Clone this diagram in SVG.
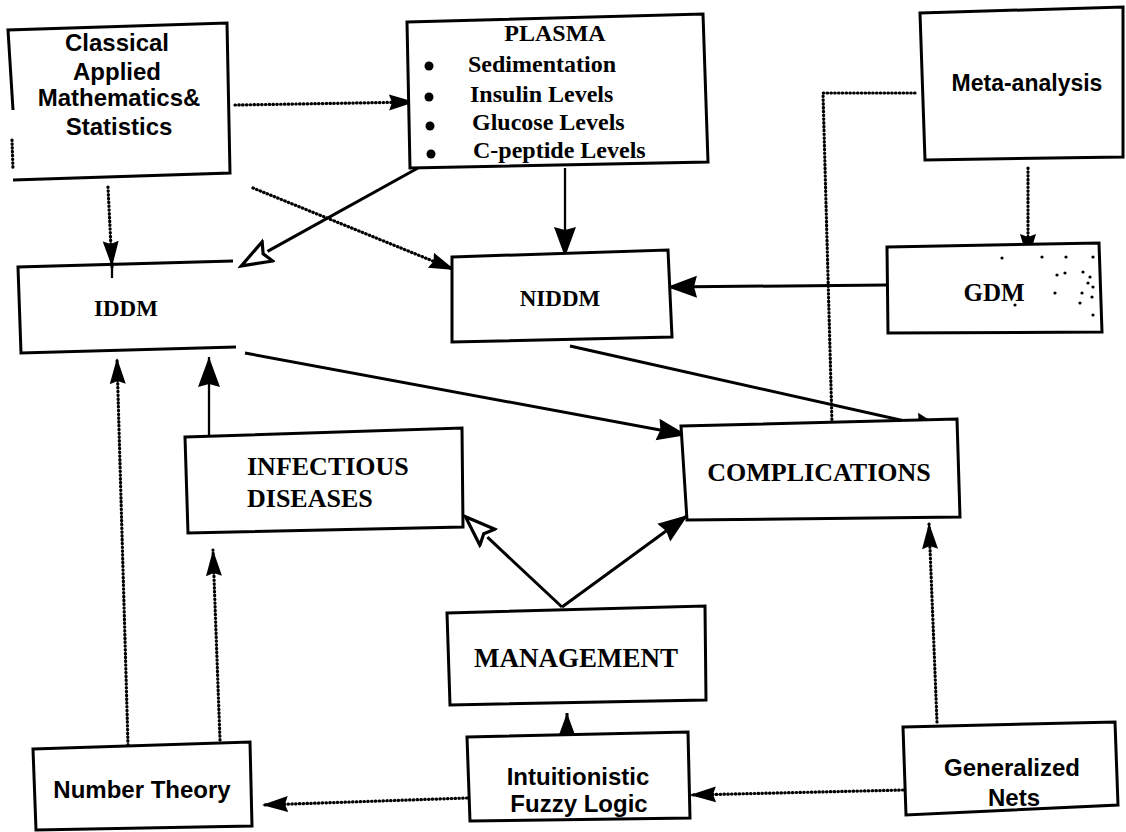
<svg xmlns="http://www.w3.org/2000/svg" width="1126" height="832" viewBox="0 0 1126 832">
  <style>
    .box { fill: #fff; stroke: #000; stroke-width: 3; stroke-linejoin: miter; }
    .open { fill: none; stroke: #000; stroke-width: 3; }
    .sans { font-family: "Liberation Sans", Arial, sans-serif; font-weight: bold; fill: #000; }
    .serif { font-family: "Liberation Serif", "Times New Roman", serif; font-weight: bold; fill: #000; }
    .solid { fill: none; stroke: #000; stroke-width: 3; }
    .thin { fill: none; stroke: #000; stroke-width: 2.3; }
    .dot { fill: none; stroke: #000; stroke-width: 3.2; stroke-linecap: round; stroke-dasharray: 0.5 3.3; }
  </style>
  <defs>
    <marker id="head" markerUnits="userSpaceOnUse" markerWidth="34" markerHeight="26" refX="30" refY="12" orient="auto">
      <path d="M0,1 L30,12 L0,23 L3,12 Z" fill="#000"/>
    </marker>
    <marker id="dhead" markerUnits="userSpaceOnUse" markerWidth="30" markerHeight="20" refX="26" refY="9" orient="auto">
      <path d="M0,1 L26,9 L0,17 L3,9 Z" fill="#000"/>
    </marker>
    <marker id="hollow" markerUnits="userSpaceOnUse" markerWidth="36" markerHeight="28" refX="2" refY="13" orient="auto">
      <path d="M2,2 L32,13 L2,24 L7,13 Z" fill="#fff" stroke="#000" stroke-width="3.2" stroke-linejoin="miter"/>
    </marker>
  </defs>

  <!-- connectors -->
  <g id="connectors">
    <path class="dot" d="M235,105 L415,102" marker-end="url(#dhead)"/>
    <path class="dot" d="M108,187 L112,267" marker-end="url(#dhead)"/>
    <path class="thin" d="M112,267 L112,278"/>
    <path class="dot" d="M253,188 L455,270" marker-end="url(#dhead)"/>
    <path class="solid" d="M418,168 L267.5,251.4" marker-end="url(#hollow)"/>
    <path class="thin" d="M565,168 L565,257" marker-end="url(#head)"/>
    <path class="dot" d="M1028,168 L1028,260" marker-end="url(#dhead)"/>
    <path class="solid" d="M887,285 L667,287" marker-end="url(#head)"/>
    <path class="dot" d="M915,93 L823,93 L833,460" marker-end="url(#dhead)"/>
    <path class="solid" d="M245,353 L687,435" marker-end="url(#head)"/>
    <path class="solid" d="M570,346 L945,430" marker-end="url(#head)"/>
    <path class="thin" d="M209,447 L209,357" marker-end="url(#head)"/>
    <path class="dot" d="M128,745 L117,358" marker-end="url(#dhead)"/>
    <path class="dot" d="M220,740 L213,550" marker-end="url(#dhead)"/>
    <path class="solid" d="M562,607 L487.4,537.2" marker-end="url(#hollow)"/>
    <path class="solid" d="M562,607 L688,515" marker-end="url(#head)"/>
    <path class="solid" d="M567,742 L567,713" marker-end="url(#head)"/>
    <path class="dot" d="M467,798 L262,805" marker-end="url(#dhead)"/>
    <path class="dot" d="M903,790 L690,795" marker-end="url(#dhead)"/>
    <path class="dot" d="M937,722 L929,523" marker-end="url(#dhead)"/>
  </g>

  <g id="classical">
    <path class="open" d="M13,110 L8,30 L227,23 L230,173 L13,180"/>
    <path class="dot" d="M12,140 L13,170"/>
    <text class="sans" font-size="24" text-anchor="middle" x="117" y="51">Classical</text>
    <text class="sans" font-size="24" text-anchor="middle" x="117" y="80">Applied</text>
    <text class="sans" font-size="24" text-anchor="middle" x="119" y="106">Mathematics&amp;</text>
    <text class="sans" font-size="24" text-anchor="middle" x="119" y="135">Statistics</text>
  </g>

  <g id="plasma">
    <path class="box" d="M407,22 L703,14 L708,162 L410,168 Z"/>
    <text class="serif" font-size="24" text-anchor="middle" x="555" y="41">PLASMA</text>
    <circle cx="429" cy="66" r="4.5"/>
    <circle cx="429" cy="97" r="4.5"/>
    <circle cx="430" cy="126" r="4.5"/>
    <circle cx="431" cy="154" r="4.5"/>
    <text class="serif" font-size="24" x="468" y="72">Sedimentation</text>
    <text class="serif" font-size="24" x="470" y="102">Insulin Levels</text>
    <text class="serif" font-size="24" x="472" y="130">Glucose Levels</text>
    <text class="serif" font-size="24" x="473" y="158">C-peptide Levels</text>
  </g>

  <g id="meta-analysis">
    <path class="box" d="M920,13 L1123,7 L1123,157 L925,160 Z"/>
    <text class="sans" font-size="23" text-anchor="middle" x="1027" y="91">Meta-analysis</text>
  </g>

  <g id="iddm">
    <path class="open" d="M233,261 L18,267 L21,353 L236,347"/>
    <text class="serif" font-size="23" text-anchor="middle" x="126" y="316">IDDM</text>
  </g>

  <g id="niddm">
    <path class="box" d="M452,257 L668,250 L672,337 L452,342 Z"/>
    <text class="serif" font-size="23" text-anchor="middle" x="560" y="306">NIDDM</text>
  </g>

  <g id="gdm">
    <path class="box" d="M887,247 L1099,243 L1102,332 L888,333 Z"/>
    <text class="serif" font-size="25" text-anchor="middle" x="994" y="301">GDM</text>
    <g fill="#000">
      <circle cx="1002" cy="258" r="1.6"/>
      <circle cx="1042" cy="257" r="1.6"/>
      <circle cx="1066" cy="257" r="1.6"/>
      <circle cx="1093" cy="257" r="1.6"/>
      <circle cx="1057" cy="275" r="1.6"/>
      <circle cx="1065" cy="273" r="1.6"/>
      <circle cx="1083" cy="272" r="1.6"/>
      <circle cx="1090" cy="277" r="1.6"/>
      <circle cx="1088" cy="283" r="1.6"/>
      <circle cx="1093" cy="287" r="1.6"/>
      <circle cx="1055" cy="293" r="1.6"/>
      <circle cx="1082" cy="293" r="1.6"/>
      <circle cx="1092" cy="297" r="1.6"/>
      <circle cx="1080" cy="303" r="1.6"/>
      <circle cx="1015" cy="305" r="1.6"/>
      <circle cx="1093" cy="315" r="1.6"/>
    </g>
  </g>

  <g id="infectious-diseases">
    <path class="box" d="M185,437 L462,428 L463,527 L188,533 Z"/>
    <text class="serif" font-size="26" x="247" y="475">INFECTIOUS</text>
    <text class="serif" font-size="26" x="247" y="507">DISEASES</text>
  </g>

  <g id="complications">
    <path class="box" d="M681,426 L957,419 L960,517 L687,520 Z"/>
    <text class="serif" font-size="26" text-anchor="middle" x="819" y="481">COMPLICATIONS</text>
  </g>

  <g id="management">
    <path class="box" d="M447,613 L705,606 L706,700 L450,705 Z"/>
    <text class="serif" font-size="27" text-anchor="middle" x="576" y="667">MANAGEMENT</text>
  </g>

  <g id="intuitionistic-fuzzy-logic">
    <path class="box" d="M467,737 L688,732 L690,818 L470,821 Z"/>
    <text class="sans" font-size="24" text-anchor="middle" x="578" y="785">Intuitionistic</text>
    <text class="sans" font-size="24" text-anchor="middle" x="579" y="812">Fuzzy Logic</text>
  </g>

  <g id="number-theory">
    <path class="box" d="M33,749 L250,742 L252,826 L36,830 Z"/>
    <text class="sans" font-size="24" text-anchor="middle" x="142" y="798">Number Theory</text>
  </g>

  <g id="generalized-nets">
    <path class="box" d="M903,727 L1115,722 L1118,805 L906,815 Z"/>
    <text class="sans" font-size="24" text-anchor="middle" x="1012" y="776">Generalized</text>
    <text class="sans" font-size="24" text-anchor="middle" x="1014" y="806">Nets</text>
  </g>
</svg>
